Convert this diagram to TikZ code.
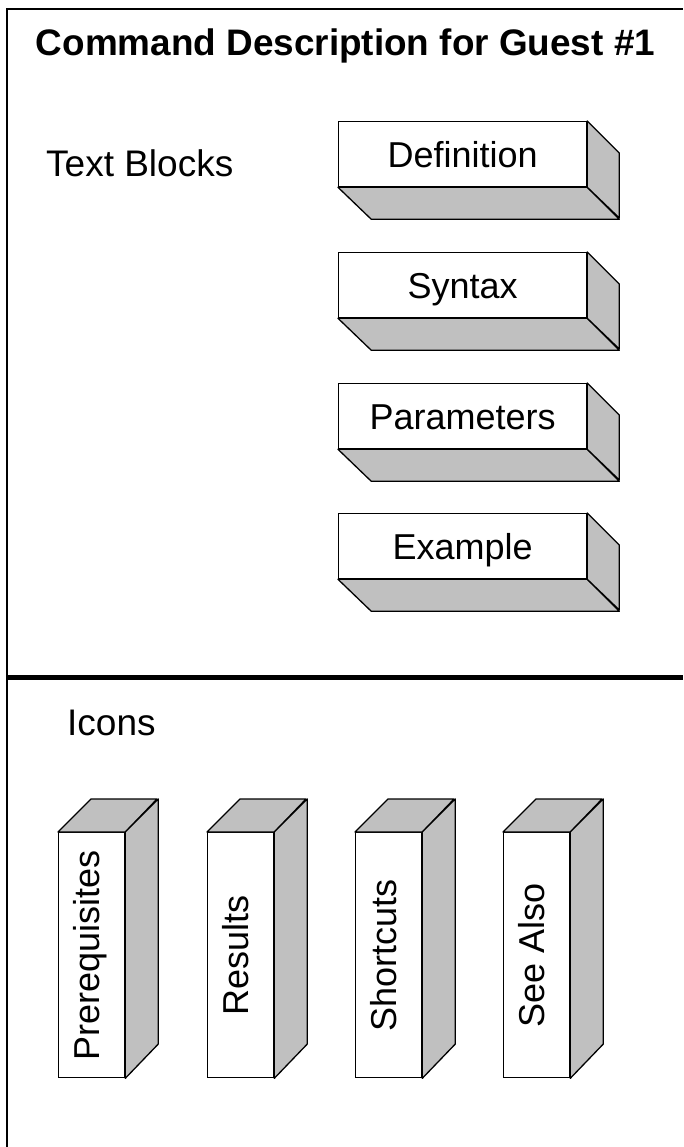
\documentclass[tikz,border=0pt]{standalone}
\usepackage{fontspec}
\setmainfont{Liberation Sans}
\definecolor{boxgray}{HTML}{C0C0C0}
\begin{document}
\begin{tikzpicture}[x=1pt,y=-1pt,
  front/.style={draw=black,line width=1.3pt,fill=white,inner sep=0pt,
    font=\fontsize{36}{40}\selectfont},
  side/.style={draw=black,line width=1.3pt,fill=boxgray,line join=round},
  label/.style={inner sep=0pt,font=\fontsize{37}{40}\selectfont},
  frameline/.style={draw=black,line width=2pt}]
\useasboundingbox (0,0) rectangle (683,1147);
% frame
\draw[frameline] (7,1147) -- (7,9) -- (683,9);
\draw[black,line width=5pt] (7,677) -- (683,677);
% title and section labels
\node[label,anchor=base,font=\fontsize{36.9}{40}\selectfont\bfseries] (title) at (345.5,56) {Command Description for Guest \#1};
\node[label,anchor=base west] (tb) at (46,177) {Text Blocks};
\node[label,anchor=base west] (ic) at (67,735) {Icons};
% text blocks
\foreach \y/\n/\t in {121/def/Definition,252/syn/Syntax,383/par/Parameters,513/ex/Example}{
  \node[front,minimum width=248pt,minimum height=65pt,text height=26pt,text depth=0pt,anchor=north west] (\n) at (338,\y) {\t};
  \draw[side] (\n.south west) -- (\n.south east) -- ++(32,32) -- ++(-248,0) -- cycle;
  \draw[side] (\n.north east) -- ++(32,32) -- ++(0,65) -- (\n.south east) -- cycle;
}
% icons
\foreach \x/\n/\t in {58/pre/Prerequisites,207/res/Results,355/sho/Shortcuts,503/see/See Also}{
  \node[front,minimum width=66pt,minimum height=245pt,anchor=north west] (\n) at (\x,832) {\rotatebox{90}{\raisebox{0pt}[26pt][10pt]{\t}}};
  \draw[side] (\n.north west) -- ++(33,-33) -- ++(66,0) -- (\n.north east) -- cycle;
  \draw[side] (\n.north east) -- ++(33,-33) -- ++(0,245) -- (\n.south east) -- cycle;
}
\end{tikzpicture}
\end{document}
